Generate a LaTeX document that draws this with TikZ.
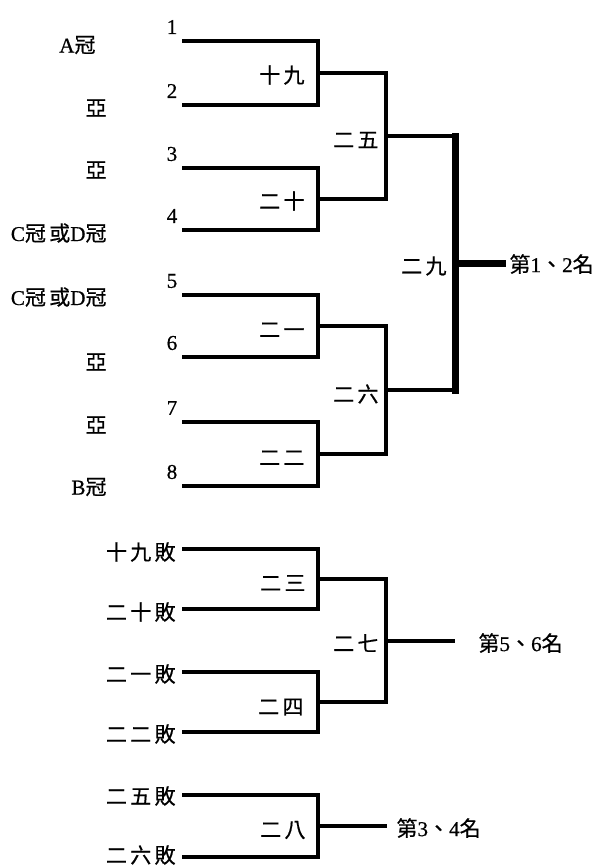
\documentclass[tikz,border=0pt]{standalone}
\usepackage{fontspec}
\setmainfont{Noto Sans CJK TC}[LetterSpace=15,FakeBold=0.6]
\newfontfamily\lat{Liberation Serif}[FakeBold=0.6]
\usetikzlibrary{calc}
\newcommand{\bracket}[3]{\draw[wire] (#1) -| (#2) |- (#3);}

\begin{document}
\begin{tikzpicture}
  [x=0.3mm, y=-0.3mm,
   wire/.style={line width=1.2mm},
   heavy/.style={line width=2.1mm, line cap=rect},
   num/.style={font=\lat\fontsize{18}{20}\selectfont},
   team/.style={anchor=east, inner sep=1pt, font=\fontsize{18}{20}\selectfont},
   game/.style={anchor=east, inner sep=1pt, font=\fontsize{18}{20}\selectfont},
   rank/.style={anchor=west, inner sep=1pt, font=\fontsize{18}{20}\selectfont},
  ]
  \useasboundingbox (0,0) rectangle (601,868);
  % entry lines
  \foreach \i/\y in {1/41,2/105,3/168,4/230,5/295,6/357,7/422,8/486}
    \coordinate (p\i) at (182,\y);
  \foreach \n/\y in {a/549,b/609,c/672,d/732,e/795,f/857}
    \coordinate (q\n) at (182,\y);
  % match points
  \coordinate (c19) at (318,73);  \coordinate (c20) at (318,199);
  \coordinate (c21) at (318,326); \coordinate (c22) at (318,454);
  \coordinate (c25) at (386,136); \coordinate (c26) at (386,390);
  \coordinate (c29) at (455,263); \coordinate (w12) at (502,263);
  \coordinate (c23) at (318,579); \coordinate (c24) at (318,702);
  \coordinate (c27) at (386,641); \coordinate (w56) at (455,641);
  \coordinate (c28) at (318,826); \coordinate (w34) at (387,826);

  \bracket{p1}{c19}{p2}  \bracket{p3}{c20}{p4}
  \bracket{p5}{c21}{p6}  \bracket{p7}{c22}{p8}
  \bracket{c19}{c25}{c20}  \bracket{c21}{c26}{c22}
  \draw[wire] (c25) -- (c25 -| c29);
  \draw[wire] (c26) -- (c26 -| c29);
  \draw[heavy] (c25 -| c29) -- (c26 -| c29);
  \draw[heavy] (c29) -- (w12);

  \bracket{qa}{c23}{qb}  \bracket{qc}{c24}{qd}
  \bracket{c23}{c27}{c24}
  \draw[wire] (c27) -- (w56);
  \bracket{qe}{c28}{qf}
  \draw[wire] (c28) -- (w34);

  % numbers
  \foreach \i in {1,...,8}
    \node[num] (n\i) at ($(p\i)+(-10,-14)$) {\i};
  % teams
  \node[team] (t1) at (97,45)   {{\lat A}冠};
  \node[team] (t2) at (108,108) {亞};
  \node[team] (t3) at (108,170) {亞};
  \node[team] (t4) at (108,233) {{\lat C}冠或{\lat D}冠};
  \node[team] (t5) at (108,297) {{\lat C}冠或{\lat D}冠};
  \node[team] (t6) at (108,362) {亞};
  \node[team] (t7) at (108,425) {亞};
  \node[team] (t8) at (108,487) {{\lat B}冠};
  \node[team] (la) at (177,552) {十九敗};
  \node[team] (lb) at (177,612) {二十敗};
  \node[team] (lc) at (177,674) {二一敗};
  \node[team] (ld) at (177,734) {二二敗};
  \node[team] (le) at (177,796) {二五敗};
  \node[team] (lf) at (177,855) {二六敗};
  % games
  \node[game] (g19) at (306,75)  {十九};
  \node[game] (g20) at (306,201) {二十};
  \node[game] (g21) at (306,330) {二一};
  \node[game] (g22) at (306,458) {二二};
  \node[game] (g25) at (380,140) {二五};
  \node[game] (g26) at (380,394) {二六};
  \node[game] (g29) at (448,266) {二九};
  \node[game] (g23) at (307,583) {二三};
  \node[game] (g24) at (305,707) {二四};
  \node[game] (g27) at (380,643) {二七};
  \node[game] (g28) at (307,830) {二八};
  % places
  \node[rank] (r12) at (508,264) {第{\lat 1}、{\lat 2}名};
  \node[rank] (r56) at (477,643) {第{\lat 5}、{\lat 6}名};
  \node[rank] (r34) at (395,828) {第{\lat 3}、{\lat 4}名};
\end{tikzpicture}
\end{document}
